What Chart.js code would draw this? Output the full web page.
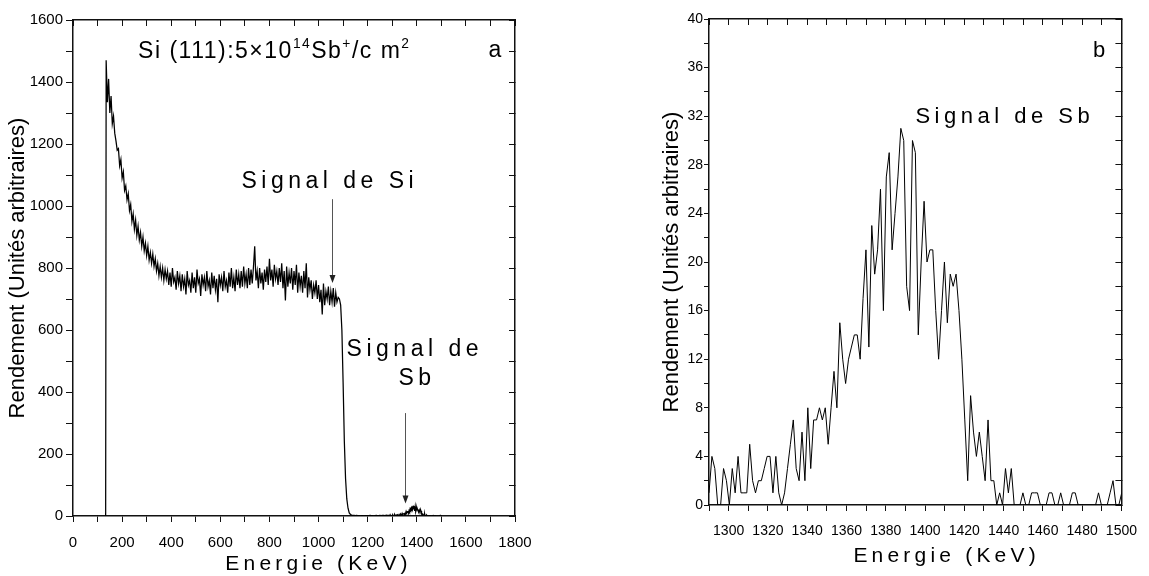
<!DOCTYPE html>
<html>
<head>
<meta charset="utf-8">
<script src="https://cdn.jsdelivr.net/npm/chart.js@4/dist/chart.umd.min.js"></script>
<style>
  html, body { margin: 0; padding: 0; background: #fff; }
  #wrap { position: relative; width: 1149px; height: 576px; overflow: hidden; }
  #wrap canvas { position: absolute; top: 0; }
  #specChart { left: 0; }
  #zoomChart { left: 650px; }
</style>
</head>
<body>
<div id="wrap">
  <canvas id="specChart" width="560" height="576"></canvas>
  <canvas id="zoomChart" width="499" height="576"></canvas>
</div>
<script>
// RBS spectrum of Si(111) implanted with 5e14 Sb+/cm2

// (a) full spectrum : leading edge, then one channel every SPEC_STEP keV
const EDGE_ENERGY = 133;
const SPEC_START = 135, SPEC_STEP = 5;
const spectrumCounts = [
  1470, 1335, 1410, 1300, 1355, 1265, 1290, 1235, 1210, 1180,
  1185, 1130, 1150, 1090, 1110, 1050, 1065, 1020, 1040, 985,
  1005, 950, 975, 925, 955, 905, 935, 890, 915, 870,
  900, 855, 880, 840, 870, 825, 850, 815, 845, 805,
  830, 790, 815, 775, 805, 770, 800, 760, 795, 765,
  790, 745, 785, 740, 800, 755, 770, 730, 790, 750,
  775, 725, 780, 740, 765, 715, 790, 745, 760, 720,
  785, 735, 770, 720, 795, 750, 765, 710, 780, 745,
  770, 725, 790, 740, 760, 715, 785, 735, 775, 730,
  765, 690, 780, 745, 770, 725, 790, 740, 760, 720,
  785, 740, 800, 735, 770, 725, 795, 745, 780, 735,
  790, 740, 805, 750, 780, 735, 800, 745, 795, 750,
  805, 870, 760, 790, 735, 800, 750, 785, 730, 795,
  755, 805, 745, 830, 760, 795, 740, 810, 765, 790,
  745, 800, 755, 815, 735, 790, 695, 805, 740, 785,
  750, 800, 730, 790, 745, 810, 720, 785, 740, 775,
  720, 790, 735, 815, 705, 770, 730, 760, 700, 745,
  720, 760, 700, 745, 690, 730, 650, 750, 680, 725,
  700, 740, 680, 725, 690, 735, 675, 720, 690, 705,
  700, 680, 600, 430, 240, 120, 55, 25, 10, 5,
  3, 2, 2, 1, 2, 1, 1, 0, 1, 1,
  0, 1, 1, 0, 1, 2, 1, 1, 0, 1,
  2, 1, 1, 2, 1, 2, 2, 1, 3, 2, 2
];

// (b) Sb window : one channel every SB_STEP keV
const SB_START = 1290, SB_STEP = 1.48;
const sbCounts = [
  1, 4, 3, 0, 0, 3, 2, 0, 3, 1,
  4, 1, 1, 1, 5, 2, 1, 2, 2, 3,
  4, 4, 1, 4, 1, 0, 1, 3, 5, 7,
  3, 2, 6, 2, 8, 3, 7, 7, 8, 7,
  8, 5, 8, 11, 8, 15, 12, 10, 12, 13,
  14, 14, 12, 17, 21, 13, 23, 19, 21, 26,
  16, 27, 29, 21, 24, 27, 31, 30, 18, 16,
  30, 29, 14, 20, 25, 20, 21, 21, 16, 12,
  16, 20, 15, 19, 18, 19, 16, 12, 7, 2,
  9, 6, 4, 6, 4, 2, 7, 2, 2, 0,
  1, 0, 3, 1, 3, 0, 0, 0, 1, 0,
  0, 1, 1, 1, 0, 0, 0, 1, 1, 0,
  0, 1, 0, 0, 0, 1, 1, 0, 0, 0,
  0, 0, 0, 0, 1, 0, 0, 0, 1, 2,
  0, 0, 1
];

// labelled ticks (the others are unlabelled minor ticks)
const xLabelsA = [0, 200, 400, 600, 800, 1000, 1200, 1400, 1600, 1800];
const yLabelsA = [0, 200, 400, 600, 800, 1000, 1200, 1400, 1600];
const xLabelsB = [1300, 1320, 1340, 1360, 1380, 1400, 1420, 1440, 1460, 1480, 1500];
const yLabelsB = [0, 4, 8, 12, 16, 20, 24, 28, 32, 36, 40];

const Y_TITLE = 'Rendement (Unités arbitraires)';
const X_TITLE = 'Energie (KeV)';

const FONT = "'Liberation Sans', Arial, sans-serif";

const pointsA = [{x: EDGE_ENERGY, y: 0}]
  .concat(spectrumCounts.map((c, i) => ({x: SPEC_START + i * SPEC_STEP, y: c})))
  .concat(sbCounts.map((c, i) => ({x: SB_START + i * SB_STEP, y: c})));
const pointsB = sbCounts.map((c, i) => ({x: SB_START + i * SB_STEP, y: c}));

// text and arrows placed in data coordinates
const notes = {
  id: 'notes',
  afterDraw(chart, args, opts) {
    const {ctx, chartArea} = chart;
    const sx = chart.scales.x, sy = chart.scales.y;
    ctx.save();
    (opts.arrows || []).forEach(a => {
      const px = Math.round(sx.getPixelForValue(a.x)) + 0.5;
      const y1 = sy.getPixelForValue(a.from), y2 = sy.getPixelForValue(a.to);
      ctx.strokeStyle = '#555';
      ctx.lineWidth = 1;
      ctx.beginPath();
      ctx.moveTo(px, y1);
      ctx.lineTo(px, y2 - 6);
      ctx.stroke();
      ctx.fillStyle = '#222';
      ctx.beginPath();
      ctx.moveTo(px - 3, y2 - 8);
      ctx.lineTo(px + 3, y2 - 8);
      ctx.lineTo(px, y2);
      ctx.closePath();
      ctx.fill();
    });
    ctx.fillStyle = '#000';
    ctx.textBaseline = 'alphabetic';
    ctx.textAlign = 'left';
    (opts.labels || []).forEach(l => {
      const parts = l.parts || [{t: l.text}];
      const widths = parts.map(p => {
        ctx.font = (p.sup ? l.size * 0.6 : l.size) + 'px ' + FONT;
        ctx.letterSpacing = (l.spacing || 0) + 'px';
        return ctx.measureText(p.t).width;
      });
      const total = widths.reduce((s, w) => s + w, 0);
      let px = sx.getPixelForValue(l.x);
      if (l.align === 'center') px -= total / 2;
      const py = l.below !== undefined ? chartArea.bottom + l.below : sy.getPixelForValue(l.y);
      parts.forEach((p, i) => {
        ctx.font = (p.sup ? l.size * 0.6 : l.size) + 'px ' + FONT;
        ctx.letterSpacing = (l.spacing || 0) + 'px';
        ctx.fillText(p.t, px, p.sup ? py - l.size * 0.45 : py);
        px += widths[i];
      });
    });
    ctx.letterSpacing = '0px';
    ctx.restore();
  }
};

function axes(xr, yr, xLabels, yLabels, dims) {
  const tickFont = {family: FONT, size: dims.tickSize};
  const frame = {display: true, color: '#111', width: 1.5};
  const labelIf = list => v => (list.includes(v) ? String(v) : '');
  return {
    x: {
      type: 'linear', position: 'bottom', min: xr[0], max: xr[1],
      afterFit: s => { s.height = dims.xAxisH; },
      border: frame,
      grid: {drawOnChartArea: false, tickLength: 6, color: '#111'},
      ticks: {stepSize: xr[2], autoSkip: false, maxRotation: 0, padding: dims.xPad,
        color: '#000', font: tickFont, callback: labelIf(xLabels)}
    },
    y: {
      type: 'linear', position: 'left', min: yr[0], max: yr[1],
      afterFit: s => { s.width = dims.yAxisW; },
      border: frame,
      grid: {drawOnChartArea: false, tickLength: dims.yTick, color: '#111'},
      ticks: {stepSize: yr[2], autoSkip: false, padding: dims.yPad,
        color: '#000', font: tickFont, callback: labelIf(yLabels)},
      title: {display: true, text: Y_TITLE, color: '#000',
        font: {family: FONT, size: 22}, padding: {top: dims.titlePad, bottom: 0}}
    },
    xTop: {
      type: 'linear', position: 'top', min: xr[0], max: xr[1],
      afterFit: s => { s.height = 0; },
      border: frame,
      grid: {drawOnChartArea: false, tickLength: -6, color: '#111'},
      ticks: {stepSize: xr[2], display: false}
    },
    yRight: {
      type: 'linear', position: 'right', min: yr[0], max: yr[1],
      afterFit: s => { s.width = 0; },
      border: frame,
      grid: {drawOnChartArea: false, tickLength: -6, color: '#111'},
      ticks: {stepSize: yr[2], display: false}
    }
  };
}

function lineConfig(points, lineWidth, scales, padding, notesOpts) {
  return {
    type: 'line',
    data: {datasets: [{data: points, borderColor: '#000', borderWidth: lineWidth,
      pointRadius: 0, tension: 0, fill: false}]},
    options: {
      responsive: false,
      animation: false,
      parsing: false,
      layout: {padding: padding},
      plugins: {legend: {display: false}, tooltip: {enabled: false}, notes: notesOpts},
      scales: scales
    },
    plugins: [notes]
  };
}

new Chart(document.getElementById('specChart'), lineConfig(
  pointsA, 1.25,
  axes([0, 1800, 100], [0, 1600, 100], xLabelsA, yLabelsA,
    {tickSize: 15, xAxisH: 60, yAxisW: 73, xPad: 12, yPad: 3, yTick: 7, titlePad: 5}),
  {top: 20, right: 45, bottom: 0, left: 0},
  {
    arrows: [{x: 1053, from: 1022, to: 752}, {x: 1352, from: 332, to: 40}],
    labels: [
      {x: 265, y: 1477, size: 23, spacing: 1.5, parts: [
        {t: 'Si (111):5×10'}, {t: '14', sup: true}, {t: 'Sb'}, {t: '+', sup: true},
        {t: '/c m'}, {t: '2', sup: true}]},
      {x: 1718, y: 1481, size: 23, align: 'center', text: 'a'},
      {x: 1046, y: 1058, size: 23, spacing: 4.5, align: 'center', text: 'Signal de Si'},
      {x: 1392, y: 516, size: 23, spacing: 4.5, align: 'center', text: 'Signal de'},
      {x: 1401, y: 423, size: 23, spacing: 4.5, align: 'center', text: 'Sb'},
      {x: 1000, below: 54, size: 21, spacing: 4.2, align: 'center', text: X_TITLE}
    ]
  }
));

new Chart(document.getElementById('zoomChart'), lineConfig(
  pointsB, 1,
  axes([1290, 1500, 10], [0, 40, 2], xLabelsB, yLabelsB,
    {tickSize: 14, xAxisH: 71, yAxisW: 59, xPad: 12, yPad: 1, yTick: 5, titlePad: 9}),
  {top: 19, right: 25, bottom: 0, left: 0},
  {
    labels: [
      {x: 1488.7, y: 36.9, size: 22, align: 'center', text: 'b'},
      {x: 1440.6, y: 31.4, size: 22, spacing: 4.5, align: 'center', text: 'Signal de Sb'},
      {x: 1411, below: 57, size: 21, spacing: 4.2, align: 'center', text: X_TITLE}
    ]
  }
));
</script>
</body>
</html>
